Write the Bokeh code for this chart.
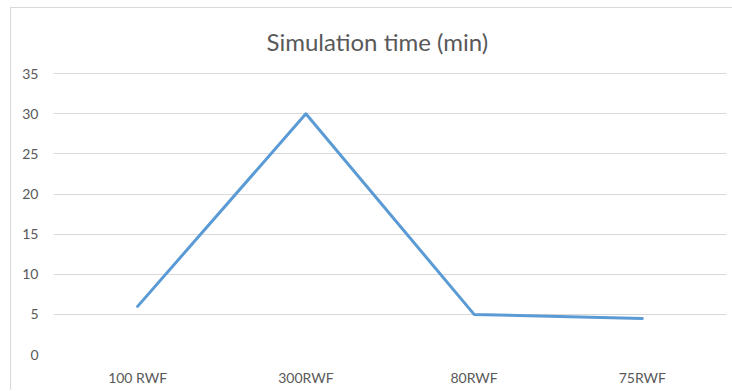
from bokeh.plotting import figure
from bokeh.models import Range1d, FactorRange, Title
from bokeh.embed import file_html
from bokeh.resources import INLINE

# Data
categories = ["100 RWF", "300RWF", "80RWF", "75RWF"]
sim_time_min = [6, 30, 5, 4.5]
y_ticks = [0, 5, 10, 15, 20, 25, 30, 35]
title_text = "Simulation time (min)"

TEXT = "#595959"
GRID = "#d9d9d9"
LINE = "#5B9BD5"

p = figure(
    width=722, height=383,
    x_range=FactorRange(*categories),
    y_range=Range1d(0, 35.15),
    output_backend="svg",
    toolbar_location=None,
    min_border_left=42, min_border_right=7,
    min_border_top=64, min_border_bottom=37,
    margin=(7, 0, 0, 10),
)
p.styles = {"border-left": "1px solid #d9d9d9", "border-top": "1px solid #d9d9d9"}
p.outline_line_color = None
p.background_fill_color = "white"
p.border_fill_color = "white"

# Chart title, shifted so it sits centred over the whole chart area
p.title = Title(text=title_text, align="left",
                text_font="Lato", text_font_size="24px",
                text_color=TEXT, text_font_style="normal",
                standoff=33, offset=213)

p.line(x=categories, y=sim_time_min, line_width=3, line_color=LINE,
       line_join="round", line_cap="round")

# Axes
p.yaxis.ticker = y_ticks
p.yaxis.axis_line_color = None
p.yaxis.major_tick_line_color = None
p.yaxis.minor_tick_line_color = None
p.yaxis.major_tick_out = 0
p.yaxis.major_label_text_color = TEXT
p.yaxis.major_label_text_font = "Lato"
p.yaxis.major_label_text_font_size = "14px"
p.yaxis.major_label_standoff = 15

p.xaxis.axis_line_color = None
p.xaxis.major_tick_line_color = None
p.xaxis.major_tick_out = 0
p.xaxis.major_label_text_color = TEXT
p.xaxis.major_label_text_font = "Lato"
p.xaxis.major_label_text_font_size = "14px"
p.xaxis.major_label_standoff = 14

p.xgrid.grid_line_color = None
p.ygrid.grid_line_color = GRID
p.ygrid.grid_line_width = 1

open("out.html", "w").write(file_html(p, INLINE))
